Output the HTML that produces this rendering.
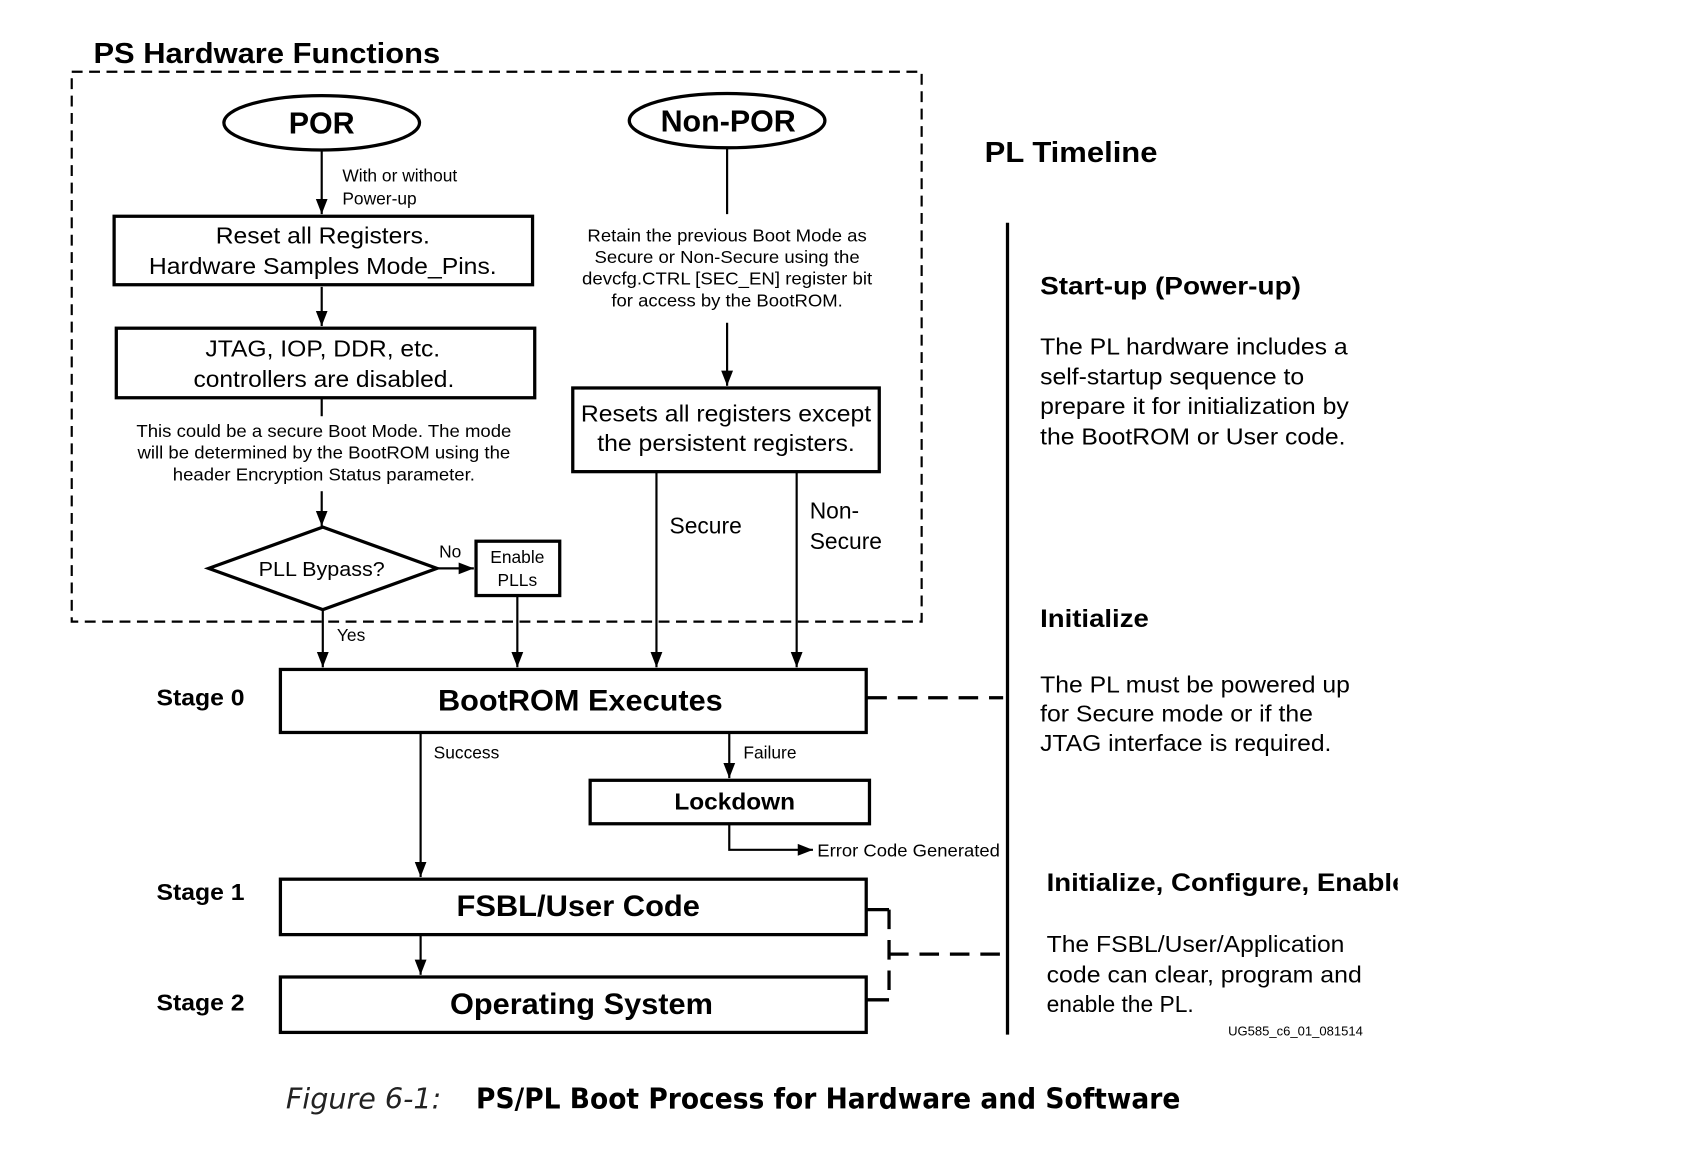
<!DOCTYPE html>
<html><head><meta charset="utf-8"><style>html,body{margin:0;padding:0;background:#fff}svg{display:block}</style></head>
<body>
<svg width="1702" height="1165" viewBox="0 0 1566 1072" preserveAspectRatio="none" xmlns="http://www.w3.org/2000/svg" font-family="'Liberation Sans', Arial, sans-serif">
<defs>
<marker id="b" markerWidth="14" markerHeight="18" refX="18" refY="7" orient="auto" markerUnits="userSpaceOnUse" viewBox="0 0 18 14"><path d="M0,0 L18,7 L0,14 z" fill="#000"/></marker>
<clipPath id="cl"><rect x="900" y="780" width="386" height="60"/></clipPath>
</defs>
<rect width="1566" height="1072" fill="#fff"/>
<text x="86" y="58" font-size="26" font-weight="bold" textLength="319" lengthAdjust="spacingAndGlyphs">PS Hardware Functions</text>
<rect x="66" y="66" width="782" height="506" fill="none" stroke="#000" stroke-width="2" stroke-dasharray="10,6"/>

<g fill="none" stroke="#000" stroke-width="3">
<ellipse cx="296" cy="113" rx="90" ry="25"/>
<ellipse cx="669" cy="111" rx="90" ry="25"/>
<rect x="105" y="199" width="385" height="63"/>
<rect x="107" y="302" width="385" height="64"/>
<polygon points="192,523 297,485 402,523 297,561"/>
<rect x="438" y="498" width="77" height="50"/>
<rect x="527" y="357" width="282" height="77"/>
<rect x="258" y="616" width="539" height="58"/>
<rect x="543" y="718" width="257" height="40"/>
<rect x="258" y="809" width="539" height="51"/>
<rect x="258" y="899" width="539" height="51"/>
<line x1="927" y1="205" x2="927" y2="952"/>
</g>
<g stroke="#000" stroke-width="2" fill="none">
<line x1="296" y1="138" x2="296" y2="197" marker-end="url(#b)"/>
<line x1="296" y1="264" x2="296" y2="300" marker-end="url(#b)"/>
<line x1="296" y1="367" x2="296" y2="383"/>
<line x1="296" y1="452" x2="296" y2="484" marker-end="url(#b)"/>
<line x1="402" y1="523" x2="436" y2="523" marker-end="url(#b)"/>
<line x1="297" y1="561" x2="297" y2="614" marker-end="url(#b)"/>
<line x1="476" y1="549" x2="476" y2="614" marker-end="url(#b)"/>
<line x1="669" y1="136" x2="669" y2="197"/>
<line x1="669" y1="297" x2="669" y2="355" marker-end="url(#b)"/>
<line x1="604" y1="435" x2="604" y2="614" marker-end="url(#b)"/>
<line x1="733" y1="435" x2="733" y2="614" marker-end="url(#b)"/>
<line x1="387" y1="675" x2="387" y2="807" marker-end="url(#b)"/>
<line x1="671" y1="675" x2="671" y2="716" marker-end="url(#b)"/>
<polyline points="671,759 671,782 748,782" marker-end="url(#b)"/>
<line x1="387" y1="861" x2="387" y2="897" marker-end="url(#b)"/>
</g>
<g stroke="#000" stroke-width="3" fill="none">
<line x1="798" y1="642" x2="923" y2="642" stroke-dasharray="18,10"/>
<line x1="798" y1="837" x2="818" y2="837"/>
<line x1="798" y1="920" x2="818" y2="920"/>
<line x1="818" y1="837" x2="818" y2="920" stroke-dasharray="18,10"/>
<line x1="818" y1="878" x2="925" y2="878" stroke-dasharray="18,10"/>
</g>

<g text-anchor="middle">
<text x="296" y="123" font-size="28" font-weight="bold">POR</text>
<text x="670" y="121" font-size="28" font-weight="bold">Non-POR</text>
<text x="297" y="224" font-size="21" textLength="197" lengthAdjust="spacingAndGlyphs">Reset all Registers.</text>
<text x="297" y="252" font-size="21" textLength="320" lengthAdjust="spacingAndGlyphs">Hardware Samples Mode_Pins.</text>
<text x="297" y="328" font-size="21" textLength="216" lengthAdjust="spacingAndGlyphs">JTAG, IOP, DDR, etc.</text>
<text x="298" y="356" font-size="21" textLength="240" lengthAdjust="spacingAndGlyphs">controllers are disabled.</text>
<text x="298" y="402" font-size="16" textLength="345" lengthAdjust="spacingAndGlyphs">This could be a secure Boot Mode. The mode</text>
<text x="298" y="422" font-size="16" textLength="343" lengthAdjust="spacingAndGlyphs">will be determined by the BootROM using the</text>
<text x="298" y="442" font-size="16" textLength="278" lengthAdjust="spacingAndGlyphs">header Encryption Status parameter.</text>
<text x="296" y="530" font-size="19" textLength="116" lengthAdjust="spacingAndGlyphs">PLL Bypass?</text>
<text x="476" y="518" font-size="16">Enable</text>
<text x="476" y="539" font-size="16">PLLs</text>
<text x="669" y="222" font-size="16" textLength="257" lengthAdjust="spacingAndGlyphs">Retain the previous Boot Mode as</text>
<text x="669" y="242" font-size="16" textLength="244" lengthAdjust="spacingAndGlyphs">Secure or Non-Secure using the</text>
<text x="669" y="262" font-size="16" textLength="267" lengthAdjust="spacingAndGlyphs">devcfg.CTRL [SEC_EN] register bit</text>
<text x="669" y="282" font-size="16" textLength="213" lengthAdjust="spacingAndGlyphs">for access by the BootROM.</text>
<text x="668" y="388" font-size="21" textLength="267" lengthAdjust="spacingAndGlyphs">Resets all registers except</text>
<text x="668" y="415" font-size="21" textLength="237" lengthAdjust="spacingAndGlyphs">the persistent registers.</text>
<text x="534" y="654" font-size="27" font-weight="bold" textLength="262" lengthAdjust="spacingAndGlyphs">BootROM Executes</text>
<text x="676" y="745" font-size="21" font-weight="bold" textLength="111" lengthAdjust="spacingAndGlyphs">Lockdown</text>
<text x="532" y="843" font-size="27" font-weight="bold" textLength="224" lengthAdjust="spacingAndGlyphs">FSBL/User Code</text>
<text x="535" y="933" font-size="27" font-weight="bold" textLength="242" lengthAdjust="spacingAndGlyphs">Operating System</text>
</g>
<g font-size="16">
<text x="315" y="167">With or without</text>
<text x="315" y="188">Power-up</text>
<text x="404" y="513">No</text>
<text x="310" y="590">Yes</text>
<text x="399" y="698">Success</text>
<text x="684" y="698">Failure</text>
<text x="752" y="788" textLength="168" lengthAdjust="spacingAndGlyphs">Error Code Generated</text>
</g>
<text x="616" y="491" font-size="21">Secure</text>
<text x="745" y="477" font-size="21">Non-</text>
<text x="745" y="505" font-size="21">Secure</text>
<g font-size="21" font-weight="bold">
<text x="144" y="649" textLength="81" lengthAdjust="spacingAndGlyphs">Stage 0</text>
<text x="144" y="828" textLength="81" lengthAdjust="spacingAndGlyphs">Stage 1</text>
<text x="144" y="930" textLength="81" lengthAdjust="spacingAndGlyphs">Stage 2</text>
</g>

<text x="906" y="149" font-size="26" font-weight="bold" textLength="159" lengthAdjust="spacingAndGlyphs">PL Timeline</text>
<text x="957" y="271" font-size="23" font-weight="bold" textLength="240" lengthAdjust="spacingAndGlyphs">Start-up (Power-up)</text>
<g font-size="21">
<text x="957" y="326" textLength="283" lengthAdjust="spacingAndGlyphs">The PL hardware includes a</text>
<text x="957" y="354" textLength="243" lengthAdjust="spacingAndGlyphs">self-startup sequence to</text>
<text x="957" y="381" textLength="284" lengthAdjust="spacingAndGlyphs">prepare it for initialization by</text>
<text x="957" y="409" textLength="281" lengthAdjust="spacingAndGlyphs">the BootROM or User code.</text>
<text x="957" y="637" textLength="285" lengthAdjust="spacingAndGlyphs">The PL must be powered up</text>
<text x="957" y="664" textLength="251" lengthAdjust="spacingAndGlyphs">for Secure mode or if the</text>
<text x="957" y="691" textLength="268" lengthAdjust="spacingAndGlyphs">JTAG interface is required.</text>
<text x="963" y="876" textLength="274" lengthAdjust="spacingAndGlyphs">The FSBL/User/Application</text>
<text x="963" y="904" textLength="290" lengthAdjust="spacingAndGlyphs">code can clear, program and</text>
<text x="963" y="931">enable the PL.</text>
</g>
<text x="957" y="577" font-size="23" font-weight="bold" textLength="100" lengthAdjust="spacingAndGlyphs">Initialize</text>
<g clip-path="url(#cl)"><text x="963" y="820" font-size="23" font-weight="bold" textLength="332" lengthAdjust="spacingAndGlyphs">Initialize, Configure, Enable</text></g>
<text x="1130" y="953" font-size="12">UG585_c6_01_081514</text>

<text x="263" y="1020" font-size="26" font-style="italic" fill="#222" font-family="'DejaVu Sans Condensed','DejaVu Sans',sans-serif" textLength="143" lengthAdjust="spacingAndGlyphs">Figure 6-1:</text>
<text x="438" y="1020" font-size="26" font-weight="bold" font-family="'DejaVu Sans Condensed','DejaVu Sans',sans-serif" textLength="648" lengthAdjust="spacingAndGlyphs">PS/PL Boot Process for Hardware and Software</text>
</svg>
</body></html>
